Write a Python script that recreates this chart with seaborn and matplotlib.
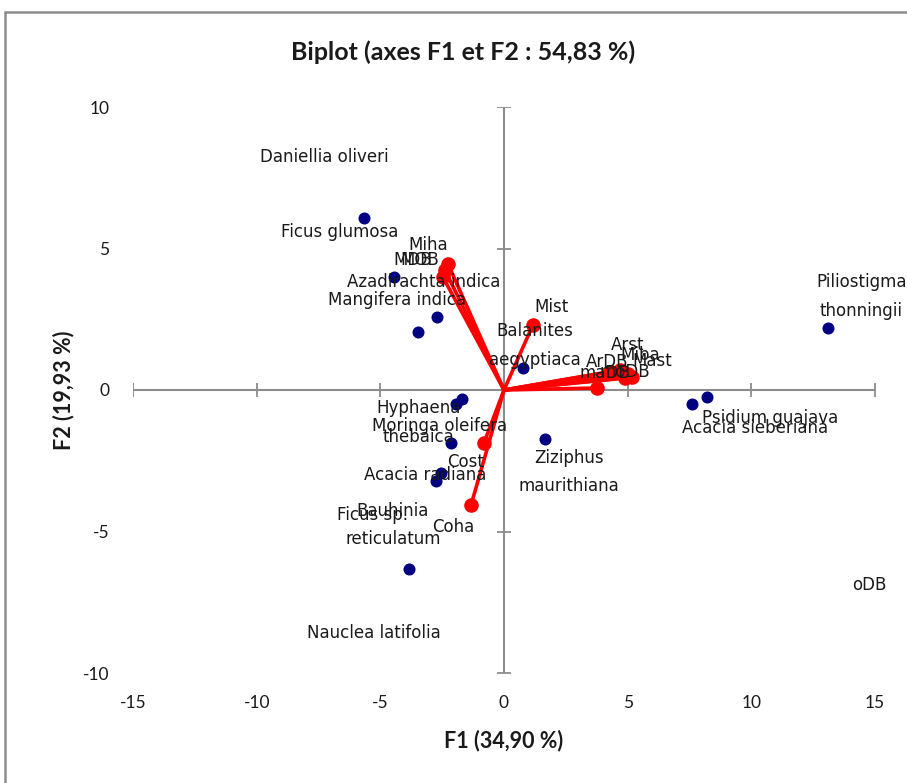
import matplotlib
matplotlib.use("Agg")
import matplotlib.pyplot as plt
import seaborn as sns
import pandas as pd
from matplotlib.patches import Rectangle

# ---------------- data ----------------
# observation scores (F1, F2)
obs_f1 = [-5.66, -4.45, -2.71, -3.48, 0.77, -1.94, -1.70, -2.14, -2.55, -2.75, -3.84, 1.66, 7.60, 8.20, 13.10]
obs_f2 = [6.08, 3.99, 2.58, 2.05, 0.78, -0.49, -0.32, -1.87, -2.93, -3.22, -6.33, -1.73, -0.49, -0.25, 2.19]

# observation labels and where they sit (data units)
obs_labels = ["Daniellia oliveri", "Ficus glumosa", "Azadirachta indica", "Mangifera indica",
              "Balanites\naegyptiaca", "Hyphaena\nthebaica", "Moringa oleifera", "Acacia radiana",
              "Bauhinia\nreticulatum", "Ficus sp.", "Nauclea latifolia", "Ziziphus\nmaurithiana",
              "Psidium guajava", "Acacia sieberiana", "Piliostigma\nthonningii", "oDB"]
obs_lab_x = [-7.28, -6.63, -3.23, -4.33, 1.25, -3.45, -2.59, -3.19, -4.49, -5.30, -5.26, 2.63,
             10.76, 10.15, 14.44, 14.76]
obs_lab_y = [8.23, 5.58, 3.82, 3.18, 1.57, -1.15, -1.27, -3.00, -4.77, -4.42, -8.59, -2.90,
             -0.99, -1.34, 3.30, -6.89]

# variable loadings (scaled) and label positions
var_names = ["Miha", "MDB", "MOB", "Mist", "Cost", "Coha", "Arst", "ArDB", "Miba", "Mast", "maDB", "moDB"]
var_f1 = [-2.26, -2.39, -2.47, 1.17, -0.81, -1.33, 4.69, 4.29, 5.01, 5.18, 3.76, 4.90]
var_f2 = [4.45, 4.24, 3.99, 2.30, -1.87, -4.06, 0.71, 0.64, 0.57, 0.46, 0.07, 0.42]
var_lab_x = [-3.07, -3.68, -3.40, 1.94, -1.54, -2.06, 5.01, 4.16, 5.50, 5.98, 4.08, 4.89]
var_lab_y = [5.12, 4.59, 4.59, 2.93, -2.54, -4.84, 1.59, 0.99, 1.24, 1.02, 0.60, 0.64]

x_ticks = [-15, -10, -5, 0, 5, 10, 15]
y_ticks = [-10, -5, 0, 5, 10]

title = "Biplot (axes F1 et F2 : 54,83 %)"
xlabel = "F1 (34,90 %)"
ylabel = "F2 (19,93 %)"

# ---------------- figure ----------------
sns.set_theme(style="white")
plt.rcParams["font.family"] = ["DejaVu Sans"]

W, H = 907, 783
fig = plt.figure(figsize=(W / 100, H / 100), dpi=100)
ax = fig.add_axes([133 / W, 1 - 673 / H, (875 - 133) / W, (673 - 107) / H])
ax.set_facecolor("white")
ax.patch.set_alpha(0)

# outer chart frame (left/top visible)
fig.patches.append(Rectangle((5 / W, -0.05), 1.2, 1 - 12 / H + 0.05, transform=fig.transFigure,
                             fill=False, edgecolor="#8c8c8c", linewidth=1.8, zorder=0))

ax.set_xlim(-15, 15)
ax.set_ylim(-10, 10)
for s in ax.spines.values():
    s.set_visible(False)

axis_col = "#8c8c8c"
ax.axhline(0, color=axis_col, lw=1.5, zorder=1)
ax.axvline(0, color=axis_col, lw=1.5, zorder=1)
ax.plot(x_ticks, [0] * len(x_ticks), linestyle="none", marker="|", ms=10, mew=1.3, color=axis_col, zorder=1)
ax.plot([0] * len(y_ticks), y_ticks, linestyle="none", marker="_", ms=10, mew=1.3, color=axis_col, zorder=1)

narrow = ["Lato", "DejaVu Sans"]
ax.set_xticks(x_ticks)
ax.set_yticks(y_ticks)
ax.set_xticklabels([str(t) for t in x_ticks], family=narrow, fontsize=12.5)
ax.set_yticklabels([str(t) for t in y_ticks], family=narrow, fontsize=12.5)
ax.tick_params(axis="both", length=0, colors="#1a1a1a")
ax.tick_params(axis="x", pad=16)
ax.tick_params(axis="y", pad=17)

# observations and vectors
red = "#ff0000"
for x, y in zip(var_f1, var_f2):
    ax.plot([0, x], [0, y], color=red, lw=2.6, zorder=2, solid_capstyle="round")
vdf = pd.DataFrame({"F1": var_f1, "F2": var_f2})
sns.scatterplot(data=vdf, x="F1", y="F2", ax=ax, color=red, s=110, edgecolor=red, linewidth=0, zorder=3)

odf = pd.DataFrame({"F1": obs_f1, "F2": obs_f2})
sns.scatterplot(data=odf, x="F1", y="F2", ax=ax, color="#000080", s=75, edgecolor="#000080",
                linewidth=0, zorder=4)

ax.set_xlabel(xlabel, family=narrow, fontsize=15.5, fontweight="bold", labelpad=13, color="#1a1a1a")
ax.set_ylabel(ylabel, family=narrow, fontsize=15.5, fontweight="bold", labelpad=6, color="#1a1a1a")
fig.text(463 / W, 1 - 52 / H, title, family=narrow, fontsize=18, fontweight="bold",
         ha="center", va="center", color="#1a1a1a")

lab_kw = dict(fontsize=12, ha="center", va="center", color="#1a1a1a", zorder=5,
              linespacing=1.75, clip_on=False)
for t, x, y in zip(obs_labels, obs_lab_x, obs_lab_y):
    ax.text(x, y, t, **lab_kw)
for t, x, y in zip(var_names, var_lab_x, var_lab_y):
    ax.text(x, y, t, **lab_kw)

fig.savefig("out.png", dpi=100)
